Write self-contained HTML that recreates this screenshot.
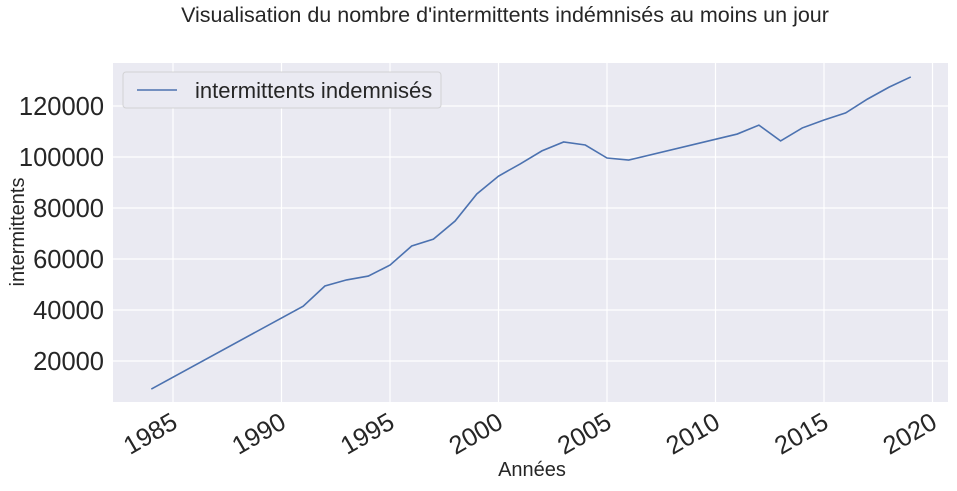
<!DOCTYPE html>
<html><head><meta charset="utf-8"><style>
body{margin:0;background:#fff;font-family:"Liberation Sans","DejaVu Sans",sans-serif;}
</style></head><body>
<svg width="957" height="486" xmlns="http://www.w3.org/2000/svg" font-family="Liberation Sans, DejaVu Sans, sans-serif">
<text x="505" y="22" font-size="21.5" text-anchor="middle" fill="#262626">Visualisation du nombre d'intermittents indémnisés au moins un jour</text>
<rect x="113" y="63" width="835" height="339" fill="#eaeaf2"/>
<g id="grid"></g><g id="ticks"></g>
<path id="line" fill="none" stroke="#4c72b0" stroke-width="1.6"/>
<g>
<rect x="123" y="72" width="318" height="36" rx="3" fill="#eaeaf2" stroke="#ccc" stroke-opacity="0.8"/>
<line x1="137" y1="90" x2="177" y2="90" stroke="#4c72b0" stroke-width="1.6"/>
<text x="195" y="98" font-size="22" fill="#262626">intermittents indemnisés</text>
</g>
<text x="532" y="476" font-size="20" text-anchor="middle" fill="#262626">Années</text>
<text transform="translate(24,232) rotate(-90)" font-size="20" text-anchor="middle" fill="#262626">intermittents</text>
</svg>
<script>
const years=[1984,1991,1992,1993,1994,1995,1996,1997,1998,1999,2000,2001,2002,2003,2004,2005,2006,2011,2012,2013,2014,2015,2016,2017,2018,2019];
const values=[9000,41500,49400,51800,53300,57600,65100,67800,74900,85500,92500,97300,102400,105900,104700,99600,98800,109000,112500,106300,111400,114500,117300,122700,127400,131400];
const xTicks=[1985,1990,1995,2000,2005,2010,2015,2020];
const yTicks=[20000,40000,60000,80000,100000,120000];
const X=y=>173+(y-1985)*21.7;
const Y=v=>361-(v-20000)*51/20000;
const ns="http://www.w3.org/2000/svg";
const grid=document.getElementById('grid'),tk=document.getElementById('ticks');
function mk(tag,attrs,parent){const e=document.createElementNS(ns,tag);for(const k in attrs)e.setAttribute(k,attrs[k]);parent.appendChild(e);return e;}
xTicks.forEach(t=>{
 const l=mk('line',{x1:X(t),x2:X(t),y1:63,y2:402,stroke:'#fff','stroke-width':1.2},grid);
 
 
 const ax=X(t)-3, ay=411;
 const tx=mk('text',{x:ax,y:ay,'font-size':25.5,fill:'#262626','text-anchor':'end',transform:`rotate(-30 ${ax} ${ay})`,dy:'0.72em'},tk);
 tx.textContent=t;
 
 
});
yTicks.forEach(t=>{
 const l=mk('line',{x1:113,x2:948,y1:Y(t),y2:Y(t),stroke:'#fff','stroke-width':1.2},grid);
 
 
 const tx=mk('text',{x:104,y:Y(t)+9,'font-size':25.5,fill:'#262626','text-anchor':'end'},tk);
 tx.textContent=t;
 
 
});
document.getElementById('line').setAttribute('d',years.map((y,i)=>(i?'L':'M')+X(y)+','+Y(values[i])).join(''));
</script>
</body></html>
